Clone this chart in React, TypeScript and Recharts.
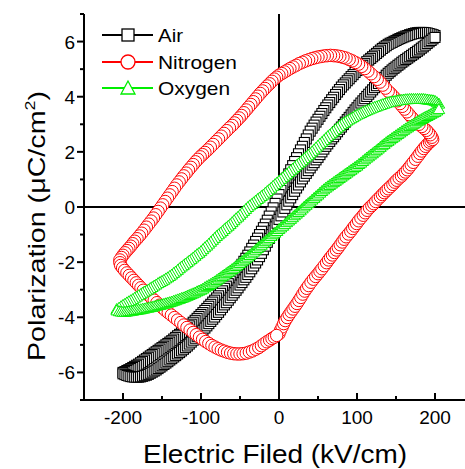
import { ScatterChart, Scatter, XAxis, YAxis, ReferenceLine } from "recharts";

const FONT = "'Liberation Sans', Arial, sans-serif";

const xTicks = [-250, -200, -150, -100, -50, 0, 50, 100, 150, 200, 250];
const xLabels = [-200, -100, 0, 100, 200];
const yTicks = [-7, -6, -5, -4, -3, -2, -1, 0, 1, 2, 3, 4, 5, 6, 7];
const yLabels = [-6, -4, -2, 0, 2, 4, 6];

// Air: descending then ascending sweep (E in kV/cm, P in uC/cm2)
const airDown: [number, number][] = [
  [200, 6.22], [197.5, 6.25], [195, 6.27], [192.5, 6.29], [190, 6.31], [187.5, 6.32], [185, 6.33], [182.5, 6.33],
  [180, 6.33], [177.5, 6.32], [175, 6.31], [172.5, 6.29], [170, 6.27], [167.5, 6.25], [165, 6.22], [162.5, 6.2],
  [160, 6.17], [157.5, 6.14], [155, 6.11], [152.5, 6.08], [150, 6.04], [147.5, 6.01], [145, 5.97], [142.5, 5.94],
  [140, 5.9], [137.5, 5.85], [135, 5.8], [132.5, 5.75], [130, 5.69], [127.5, 5.63], [125, 5.57], [122.5, 5.51],
  [120, 5.45], [117.5, 5.39], [115, 5.33], [112.5, 5.27], [110, 5.2], [107.5, 5.14], [105, 5.08], [102.5, 5.02],
  [100, 4.95], [97.5, 4.88], [95, 4.8], [92.5, 4.73], [90, 4.65], [87.5, 4.58], [85, 4.5], [82.5, 4.43],
  [80, 4.35], [77.5, 4.26], [75, 4.17], [72.5, 4.08], [70, 3.98], [67.5, 3.89], [65, 3.79], [62.5, 3.7],
  [60, 3.6], [57.5, 3.5], [55, 3.39], [52.5, 3.29], [50, 3.18], [47.5, 3.08], [45, 2.97], [42.5, 2.86],
  [40, 2.75], [37.5, 2.61], [35, 2.47], [32.5, 2.34], [30, 2.2], [27.5, 2.07], [25, 1.93], [22.5, 1.79],
  [20, 1.65], [17.5, 1.5], [15, 1.35], [12.5, 1.2], [10, 1.05], [7.5, 0.9], [5, 0.75], [2.5, 0.6],
  [0, 0.45], [-2.5, 0.29], [-5, 0.13], [-7.5, -0.03], [-10, -0.18], [-12.5, -0.33], [-15, -0.48], [-17.5, -0.62],
  [-20, -0.75], [-22.5, -0.88], [-25, -1.0], [-27.5, -1.13], [-30, -1.25], [-32.5, -1.38], [-35, -1.5], [-37.5, -1.63],
  [-40, -1.75], [-42.5, -1.86], [-45, -1.97], [-47.5, -2.08], [-50, -2.18], [-52.5, -2.29], [-55, -2.39], [-57.5, -2.5],
  [-60, -2.6], [-62.5, -2.69], [-65, -2.78], [-67.5, -2.87], [-70, -2.95], [-72.5, -3.04], [-75, -3.13], [-77.5, -3.22],
  [-80, -3.3], [-82.5, -3.38], [-85, -3.45], [-87.5, -3.53], [-90, -3.6], [-92.5, -3.68], [-95, -3.75], [-97.5, -3.83],
  [-100, -3.9], [-102.5, -3.97], [-105, -4.04], [-107.5, -4.11], [-110, -4.18], [-112.5, -4.25], [-115, -4.31], [-117.5, -4.38],
  [-120, -4.45], [-122.5, -4.5], [-125, -4.56], [-127.5, -4.62], [-130, -4.67], [-132.5, -4.73], [-135, -4.79], [-137.5, -4.85],
  [-140, -4.9], [-142.5, -4.95], [-145, -5.0], [-147.5, -5.05], [-150, -5.1], [-152.5, -5.15], [-155, -5.2], [-157.5, -5.25],
  [-160, -5.3], [-162.5, -5.35], [-165, -5.4], [-167.5, -5.45], [-170, -5.5], [-172.5, -5.55], [-175, -5.6], [-177.5, -5.65],
  [-180, -5.7], [-182.5, -5.74], [-185, -5.78], [-187.5, -5.82], [-190, -5.86], [-192.5, -5.9], [-195, -5.93], [-197.5, -5.97],
  [-200, -6.0],
];
const airUp: [number, number][] = [
  [-200, -6.05], [-197.5, -6.08], [-195, -6.11], [-192.5, -6.13], [-190, -6.15], [-187.5, -6.16], [-185, -6.17], [-182.5, -6.17],
  [-180, -6.17], [-177.5, -6.16], [-175, -6.14], [-172.5, -6.12], [-170, -6.1], [-167.5, -6.07], [-165, -6.03], [-162.5, -5.99],
  [-160, -5.95], [-157.5, -5.91], [-155, -5.86], [-152.5, -5.81], [-150, -5.76], [-147.5, -5.71], [-145, -5.66], [-142.5, -5.61],
  [-140, -5.55], [-137.5, -5.5], [-135, -5.44], [-132.5, -5.39], [-130, -5.33], [-127.5, -5.28], [-125, -5.22], [-122.5, -5.16],
  [-120, -5.1], [-117.5, -5.04], [-115, -4.97], [-112.5, -4.9], [-110, -4.83], [-107.5, -4.76], [-105, -4.69], [-102.5, -4.62],
  [-100, -4.55], [-97.5, -4.47], [-95, -4.39], [-92.5, -4.31], [-90, -4.23], [-87.5, -4.15], [-85, -4.07], [-82.5, -3.99],
  [-80, -3.9], [-77.5, -3.82], [-75, -3.73], [-72.5, -3.64], [-70, -3.55], [-67.5, -3.47], [-65, -3.38], [-62.5, -3.29],
  [-60, -3.2], [-57.5, -3.11], [-55, -3.02], [-52.5, -2.93], [-50, -2.83], [-47.5, -2.74], [-45, -2.64], [-42.5, -2.55],
  [-40, -2.45], [-37.5, -2.35], [-35, -2.24], [-32.5, -2.14], [-30, -2.03], [-27.5, -1.92], [-25, -1.8], [-22.5, -1.68],
  [-20, -1.55], [-17.5, -1.42], [-15, -1.28], [-12.5, -1.14], [-10, -1.0], [-7.5, -0.86], [-5, -0.72], [-2.5, -0.59],
  [0, -0.45], [2.5, -0.32], [5, -0.18], [7.5, -0.05], [10, 0.08], [12.5, 0.21], [15, 0.33], [17.5, 0.45],
  [20, 0.57], [22.5, 0.69], [25, 0.8], [27.5, 0.91], [30, 1.02], [32.5, 1.12], [35, 1.22], [37.5, 1.32],
  [40, 1.42], [42.5, 1.52], [45, 1.61], [47.5, 1.71], [50, 1.8], [52.5, 1.9], [55, 2.0], [57.5, 2.1],
  [60, 2.2], [62.5, 2.29], [65, 2.38], [67.5, 2.47], [70, 2.55], [72.5, 2.64], [75, 2.73], [77.5, 2.82],
  [80, 2.9], [82.5, 2.99], [85, 3.08], [87.5, 3.17], [90, 3.25], [92.5, 3.34], [95, 3.43], [97.5, 3.52],
  [100, 3.6], [102.5, 3.69], [105, 3.77], [107.5, 3.85], [110, 3.93], [112.5, 4.01], [115, 4.09], [117.5, 4.17],
  [120, 4.25], [122.5, 4.33], [125, 4.4], [127.5, 4.48], [130, 4.55], [132.5, 4.63], [135, 4.7], [137.5, 4.78],
  [140, 4.85], [142.5, 4.91], [145, 4.97], [147.5, 5.03], [150, 5.08], [152.5, 5.14], [155, 5.19], [157.5, 5.25],
  [160, 5.3], [162.5, 5.35], [165, 5.4], [167.5, 5.45], [170, 5.5], [172.5, 5.55], [175, 5.6], [177.5, 5.65],
  [180, 5.7], [182.5, 5.76], [185, 5.81], [187.5, 5.87], [190, 5.93], [192.5, 5.99], [195, 6.04], [197.5, 6.1],
  [200, 6.15],
];

// Nitrogen: one full loop, starting at E = 0
const nitrogenLoop: [number, number][] = [
  [0, -4.6], [2, -4.47], [4, -4.35], [6, -4.23], [8, -4.12], [10.5, -4.01], [13, -3.9], [15.5, -3.8],
  [18, -3.7], [20.5, -3.6], [23, -3.5], [25.5, -3.39], [28, -3.28], [30.5, -3.16], [33, -3.05], [35.5, -2.95],
  [38, -2.85], [41, -2.73], [44, -2.62], [47, -2.52], [50, -2.42], [52.5, -2.33], [55, -2.24], [58, -2.13],
  [61, -2.02], [63.5, -1.92], [66, -1.83], [68.5, -1.74], [71, -1.65], [73.5, -1.56], [76, -1.47], [78.5, -1.37],
  [81, -1.27], [83.5, -1.17], [86, -1.08], [89, -0.98], [92, -0.88], [94.5, -0.78], [97, -0.69], [99.5, -0.6],
  [102, -0.5], [105, -0.4], [108, -0.3], [110.5, -0.21], [113, -0.12], [116, -0.03], [119, 0.05], [121.5, 0.12],
  [124, 0.2], [127, 0.29], [130, 0.37], [132.5, 0.45], [135, 0.52], [137.5, 0.59], [140, 0.66], [143, 0.74],
  [146, 0.82], [148.5, 0.9], [151, 0.97], [154, 1.05], [157, 1.12], [159.5, 1.2], [162, 1.27], [164.5, 1.35],
  [167, 1.44], [169.5, 1.53], [172, 1.62], [175, 1.73], [178, 1.84], [180.5, 1.94], [183, 2.03], [185.5, 2.12],
  [188, 2.2], [190.5, 2.28], [193, 2.35], [195, 2.4], [197, 2.45],
  [196, 2.53], [194, 2.62], [191.5, 2.7], [189, 2.78], [186, 2.85], [183, 2.92], [179.5, 3.0], [176, 3.08],
  [173, 3.16], [170, 3.25], [167, 3.35], [164, 3.45], [161, 3.55], [158, 3.65], [155, 3.75], [152, 3.85],
  [149, 3.94], [146, 4.03], [143, 4.12], [140, 4.2], [136.5, 4.31], [133, 4.42], [129.5, 4.53], [126, 4.63],
  [122, 4.73], [118, 4.83], [114, 4.93], [110, 5.02], [106, 5.1], [102, 5.18], [98, 5.24], [94, 5.3],
  [90, 5.35], [86, 5.4], [82, 5.43], [78, 5.46], [74, 5.48], [70, 5.49], [66, 5.5], [62, 5.49],
  [58, 5.48], [54, 5.46], [50, 5.44], [46, 5.41], [42, 5.38], [38, 5.34], [34, 5.3], [30, 5.25],
  [26, 5.2], [22, 5.14], [18, 5.08], [14, 5.02], [10.5, 4.96], [7, 4.9], [3.5, 4.84], [0, 4.78],
  [-3, 4.71], [-6, 4.64], [-9, 4.56], [-12, 4.47], [-15, 4.39], [-18, 4.3], [-21, 4.21], [-24, 4.12],
  [-27, 4.02], [-30, 3.92], [-33, 3.82], [-36, 3.72], [-39, 3.62], [-42, 3.52], [-45, 3.42], [-48, 3.32],
  [-51, 3.23], [-54, 3.14], [-57, 3.05], [-60, 2.96], [-63.5, 2.87], [-67, 2.77], [-70.5, 2.67], [-74, 2.57],
  [-77.5, 2.47], [-81, 2.37], [-84.5, 2.27], [-88, 2.17], [-91.5, 2.07], [-95, 1.98], [-98, 1.9], [-101, 1.82],
  [-104, 1.73], [-107, 1.64], [-110, 1.54], [-113, 1.44], [-116, 1.34], [-119, 1.23], [-122, 1.13], [-125, 1.02],
  [-128, 0.91], [-131, 0.8], [-134, 0.68], [-137, 0.56], [-140, 0.44], [-143, 0.32], [-146, 0.2], [-149, 0.08],
  [-152, -0.04], [-155, -0.16], [-158, -0.28], [-161, -0.4], [-164, -0.51], [-167, -0.62], [-170, -0.73], [-173, -0.84],
  [-176, -0.95], [-179, -1.05], [-182, -1.15], [-185, -1.24], [-187.5, -1.33], [-190, -1.42], [-192.5, -1.5], [-195, -1.58],
  [-197.5, -1.66], [-200, -1.75], [-202, -1.83], [-204, -1.92],
  [-204, -2.02], [-203, -2.12], [-200.5, -2.21], [-198, -2.3], [-195, -2.39], [-192, -2.48], [-189, -2.57], [-186, -2.66],
  [-183, -2.75], [-180, -2.84], [-177, -2.93], [-174, -3.02], [-170.5, -3.11], [-167, -3.2], [-163.5, -3.29], [-160, -3.38],
  [-156.5, -3.47], [-153, -3.56], [-149.5, -3.65], [-146, -3.74], [-142, -3.83], [-138, -3.92], [-134, -4.01], [-130, -4.1],
  [-126, -4.19], [-122, -4.28], [-118, -4.37], [-114, -4.46], [-110, -4.55], [-106, -4.63], [-102, -4.72], [-98, -4.8],
  [-94, -4.88], [-90, -4.95], [-86, -5.02], [-82, -5.08], [-78, -5.14], [-74, -5.19], [-70, -5.23], [-66, -5.27],
  [-62, -5.3], [-58, -5.32], [-54, -5.33], [-50, -5.33], [-46, -5.32], [-42, -5.3], [-38, -5.26], [-34, -5.22],
  [-30, -5.16], [-26, -5.1], [-22.5, -5.03], [-19, -4.96], [-15.5, -4.89], [-12, -4.83], [-9, -4.77], [-6, -4.72],
  [-3, -4.66],
];

// Oxygen: descending then ascending sweep
const oxygenDown: [number, number][] = [
  [205, 3.75], [202.5, 3.8], [200, 3.85], [197.5, 3.87], [195, 3.88], [192.5, 3.89], [190, 3.9], [187.5, 3.91],
  [185, 3.92], [182.5, 3.92], [180, 3.92], [177.5, 3.92], [175, 3.92], [172.5, 3.92], [170, 3.92], [167.5, 3.92],
  [165, 3.91], [162.5, 3.91], [160, 3.9], [157.5, 3.89], [155, 3.88], [152.5, 3.87], [150, 3.85], [147.5, 3.84],
  [145, 3.83], [142.5, 3.82], [140, 3.8], [137.5, 3.78], [135, 3.75], [132.5, 3.73], [130, 3.7], [127.5, 3.68],
  [125, 3.65], [122.5, 3.63], [120, 3.6], [117.5, 3.57], [115, 3.54], [112.5, 3.51], [110, 3.48], [107.5, 3.45],
  [105, 3.41], [102.5, 3.38], [100, 3.35], [97.5, 3.31], [95, 3.26], [92.5, 3.22], [90, 3.18], [87.5, 3.14],
  [85, 3.09], [82.5, 3.05], [80, 3.0], [77.5, 2.94], [75, 2.88], [72.5, 2.82], [70, 2.75], [67.5, 2.69],
  [65, 2.63], [62.5, 2.57], [60, 2.5], [57.5, 2.43], [55, 2.36], [52.5, 2.3], [50, 2.23], [47.5, 2.16],
  [45, 2.09], [42.5, 2.02], [40, 1.95], [37.5, 1.89], [35, 1.83], [32.5, 1.77], [30, 1.7], [27.5, 1.64],
  [25, 1.58], [22.5, 1.52], [20, 1.45], [17.5, 1.39], [15, 1.33], [12.5, 1.27], [10, 1.2], [7.5, 1.14],
  [5, 1.08], [2.5, 1.02], [0, 0.95], [-2.5, 0.89], [-5, 0.83], [-7.5, 0.77], [-10, 0.7], [-12.5, 0.64],
  [-15, 0.58], [-17.5, 0.52], [-20, 0.45], [-22.5, 0.4], [-25, 0.34], [-27.5, 0.29], [-30, 0.23], [-32.5, 0.17],
  [-35, 0.11], [-37.5, 0.06], [-40, 0.0], [-42.5, -0.07], [-45, -0.14], [-47.5, -0.21], [-50, -0.28], [-52.5, -0.35],
  [-55, -0.41], [-57.5, -0.48], [-60, -0.55], [-62.5, -0.62], [-65, -0.68], [-67.5, -0.74], [-70, -0.8], [-72.5, -0.87],
  [-75, -0.93], [-77.5, -0.99], [-80, -1.05], [-82.5, -1.12], [-85, -1.19], [-87.5, -1.26], [-90, -1.33], [-92.5, -1.4],
  [-95, -1.46], [-97.5, -1.53], [-100, -1.6], [-102.5, -1.66], [-105, -1.71], [-107.5, -1.77], [-110, -1.83], [-112.5, -1.89],
  [-115, -1.94], [-117.5, -2.0], [-120, -2.05], [-122.5, -2.11], [-125, -2.16], [-127.5, -2.22], [-130, -2.28], [-132.5, -2.34],
  [-135, -2.39], [-137.5, -2.45], [-140, -2.5], [-142.5, -2.55], [-145, -2.59], [-147.5, -2.64], [-150, -2.68], [-152.5, -2.72],
  [-155, -2.76], [-157.5, -2.81], [-160, -2.85], [-162.5, -2.9], [-165, -2.94], [-167.5, -2.99], [-170, -3.03], [-172.5, -3.07],
  [-175, -3.11], [-177.5, -3.16], [-180, -3.2], [-182.5, -3.25], [-185, -3.29], [-187.5, -3.34], [-190, -3.38], [-192.5, -3.42],
  [-195, -3.46], [-197.5, -3.51], [-200, -3.55], [-202.5, -3.6], [-205, -3.65], [-208, -3.7],
];
const oxygenUp: [number, number][] = [
  [-208, -3.75], [-205, -3.78], [-202.5, -3.79], [-200, -3.8], [-197.5, -3.8], [-195, -3.79], [-192.5, -3.78], [-190, -3.77],
  [-187.5, -3.76], [-185, -3.74], [-182.5, -3.73], [-180, -3.72], [-177.5, -3.71], [-175, -3.69], [-172.5, -3.68], [-170, -3.66],
  [-167.5, -3.65], [-165, -3.63], [-162.5, -3.62], [-160, -3.6], [-157.5, -3.58], [-155, -3.56], [-152.5, -3.55], [-150, -3.53],
  [-147.5, -3.51], [-145, -3.49], [-142.5, -3.47], [-140, -3.45], [-137.5, -3.43], [-135, -3.4], [-132.5, -3.38], [-130, -3.35],
  [-127.5, -3.33], [-125, -3.3], [-122.5, -3.28], [-120, -3.25], [-117.5, -3.22], [-115, -3.19], [-112.5, -3.16], [-110, -3.13],
  [-107.5, -3.1], [-105, -3.06], [-102.5, -3.03], [-100, -3.0], [-97.5, -2.96], [-95, -2.91], [-92.5, -2.87], [-90, -2.83],
  [-87.5, -2.79], [-85, -2.74], [-82.5, -2.7], [-80, -2.65], [-77.5, -2.6], [-75, -2.55], [-72.5, -2.5], [-70, -2.45],
  [-67.5, -2.4], [-65, -2.35], [-62.5, -2.3], [-60, -2.25], [-57.5, -2.2], [-55, -2.14], [-52.5, -2.09], [-50, -2.03],
  [-47.5, -1.97], [-45, -1.91], [-42.5, -1.86], [-40, -1.8], [-37.5, -1.74], [-35, -1.68], [-32.5, -1.62], [-30, -1.55],
  [-27.5, -1.49], [-25, -1.43], [-22.5, -1.37], [-20, -1.3], [-17.5, -1.24], [-15, -1.18], [-12.5, -1.12], [-10, -1.05],
  [-7.5, -0.99], [-5, -0.93], [-2.5, -0.87], [0, -0.8], [2.5, -0.74], [5, -0.68], [7.5, -0.62], [10, -0.55],
  [12.5, -0.49], [15, -0.43], [17.5, -0.37], [20, -0.3], [22.5, -0.24], [25, -0.18], [27.5, -0.12], [30, -0.05],
  [32.5, 0.02], [35, 0.08], [37.5, 0.14], [40, 0.2], [42.5, 0.27], [45, 0.33], [47.5, 0.39], [50, 0.45],
  [52.5, 0.52], [55, 0.58], [57.5, 0.64], [60, 0.7], [62.5, 0.75], [65, 0.8], [67.5, 0.85], [70, 0.9],
  [72.5, 0.95], [75, 1.0], [77.5, 1.05], [80, 1.1], [82.5, 1.15], [85, 1.2], [87.5, 1.25], [90, 1.3],
  [92.5, 1.35], [95, 1.4], [97.5, 1.45], [100, 1.5], [102.5, 1.56], [105, 1.61], [107.5, 1.67], [110, 1.73],
  [112.5, 1.79], [115, 1.84], [117.5, 1.9], [120, 1.95], [122.5, 2.01], [125, 2.06], [127.5, 2.12], [130, 2.18],
  [132.5, 2.24], [135, 2.29], [137.5, 2.35], [140, 2.4], [142.5, 2.45], [145, 2.5], [147.5, 2.55], [150, 2.6],
  [152.5, 2.65], [155, 2.7], [157.5, 2.75], [160, 2.8], [162.5, 2.85], [165, 2.89], [167.5, 2.94], [170, 2.98],
  [172.5, 3.02], [175, 3.06], [177.5, 3.11], [180, 3.15], [182.5, 3.19], [185, 3.23], [187.5, 3.27], [190, 3.3],
  [192.5, 3.34], [195, 3.38], [197.5, 3.42], [200, 3.45], [202.5, 3.5], [205, 3.55],
];

const toPoints = (pairs: [number, number][]) => pairs.map(([e, p]) => ({ e, p }));

const airData = toPoints([...airDown, ...airUp]);
const nitrogenData = toPoints(nitrogenLoop);
const oxygenData = toPoints([...oxygenDown, ...oxygenUp]);

const BLACK = "#000000";
const RED = "#ff0000";
const GREEN = "#00ee00";

// open symbols are white-filled, so later points cover earlier ones
const SquareMark = ({ cx, cy }: any) => (
  <rect x={cx - 5} y={cy - 5} width={10} height={10} fill="#fff" stroke={BLACK} strokeWidth={1.1} />
);
const CircleMark = ({ cx, cy }: any) => (
  <circle cx={cx} cy={cy} r={6.2} fill="#fff" stroke={RED} strokeWidth={1} />
);
const TriangleMark = ({ cx, cy }: any) => (
  <polygon
    points={`${cx},${cy - 5.5} ${cx - 5.8},${cy + 4.5} ${cx + 5.8},${cy + 4.5}`}
    fill="#fff"
    stroke={GREEN}
    strokeWidth={1}
  />
);

function XTick({ x, y, payload }: any) {
  const v = payload.value;
  const major = xLabels.includes(v);
  return (
    <g>
      <line x1={x} x2={x} y1={y} y2={y - (major ? 7 : 4)} stroke={BLACK} strokeWidth={2} />
      {major && (
        <text x={x} y={y + 24} textAnchor="middle" fontSize={19} fontFamily={FONT} fill={BLACK}>
          {v}
        </text>
      )}
    </g>
  );
}

function YTick({ x, y, payload }: any) {
  const v = payload.value;
  const major = yLabels.includes(v);
  return (
    <g>
      <line x1={x} x2={x - (major ? 7 : 4)} y1={y} y2={y} stroke={BLACK} strokeWidth={2} />
      {major && (
        <text x={x - 9} y={y + 7} textAnchor="end" fontSize={19} fontFamily={FONT} fill={BLACK}>
          {v}
        </text>
      )}
    </g>
  );
}

const legendRows = [
  { name: "Air", y: 35, len: 25, color: BLACK, kind: "square" },
  { name: "Nitrogen", y: 62, len: 79, color: RED, kind: "circle" },
  { name: "Oxygen", y: 88, len: 72, color: GREEN, kind: "triangle" },
];

function Overlay() {
  return (
    <svg
      width={465}
      height={469}
      style={{ position: "absolute", left: 0, top: 0, pointerEvents: "none" }}
    >
      {legendRows.map((r) => (
        <g key={r.name}>
          <line x1={102} x2={153} y1={r.y} y2={r.y} stroke={r.color} strokeWidth={2.2} />
          {r.kind === "square" && (
            <rect x={122} y={r.y - 6} width={12} height={12} fill="#fff" stroke={r.color} strokeWidth={1.3} />
          )}
          {r.kind === "circle" && <circle cx={128} cy={r.y} r={7} fill="#fff" stroke={r.color} strokeWidth={1.3} />}
          {r.kind === "triangle" && (
            <polygon
              points={`128,${r.y - 7} 121,${r.y + 6} 135,${r.y + 6}`}
              fill="#fff"
              stroke={r.color}
              strokeWidth={1.3}
            />
          )}
          <text
            x={158}
            y={r.y + 7}
            fontSize={19}
            fontFamily={FONT}
            textLength={r.len}
            lengthAdjust="spacingAndGlyphs"
            fill={BLACK}
          >
            {r.name}
          </text>
        </g>
      ))}
      <text
        x={275}
        y={463}
        textAnchor="middle"
        fontSize={25}
        fontFamily={FONT}
        textLength={264}
        lengthAdjust="spacingAndGlyphs"
        fill={BLACK}
      >
        Electric Filed (kV/cm)
      </text>
      <text
        transform="translate(45,226) rotate(-90)"
        textAnchor="middle"
        fontSize={24}
        fontFamily={FONT}
        textLength={270}
        lengthAdjust="spacingAndGlyphs"
        fill={BLACK}
      >
        Polarization (μC/cm
        <tspan dy={-10} fontSize={15}>
          2
        </tspan>
        <tspan dy={10}>)</tspan>
      </text>
    </svg>
  );
}

export default function App() {
  return (
    <div
      style={{
        position: "absolute",
        left: 0,
        top: 0,
        width: 465,
        height: 469,
        overflow: "hidden",
        background: "#fff",
      }}
    >
      <ScatterChart width={480} height={469} margin={{ top: 14, right: 6, bottom: 0, left: 0 }}>
        <XAxis
          type="number"
          dataKey="e"
          domain={[-250, 250]}
          ticks={xTicks}
          interval={0}
          height={69}
          tickSize={0}
          tickMargin={0}
          tickLine={false}
          tick={<XTick />}
          axisLine={{ stroke: BLACK, strokeWidth: 2 }}
          allowDataOverflow
        />
        <XAxis
          xAxisId="top"
          orientation="top"
          type="number"
          domain={[-250, 250]}
          height={0}
          tick={false}
          tickLine={false}
          axisLine={{ stroke: BLACK, strokeWidth: 2 }}
        />
        <YAxis
          type="number"
          dataKey="p"
          domain={[-7, 7]}
          ticks={yTicks}
          interval={0}
          width={84}
          tickSize={0}
          tickMargin={0}
          tickLine={false}
          tick={<YTick />}
          axisLine={{ stroke: BLACK, strokeWidth: 2 }}
          allowDataOverflow
        />
        <ReferenceLine x={0} stroke={BLACK} strokeWidth={2} />
        <ReferenceLine y={0} stroke={BLACK} strokeWidth={2} />
        <Scatter name="Air" data={airData} shape={<SquareMark />} isAnimationActive={false} />
        <Scatter name="Nitrogen" data={nitrogenData} shape={<CircleMark />} isAnimationActive={false} />
        <Scatter name="Oxygen" data={oxygenData} shape={<TriangleMark />} isAnimationActive={false} />
      </ScatterChart>
      <Overlay />
    </div>
  );
}
